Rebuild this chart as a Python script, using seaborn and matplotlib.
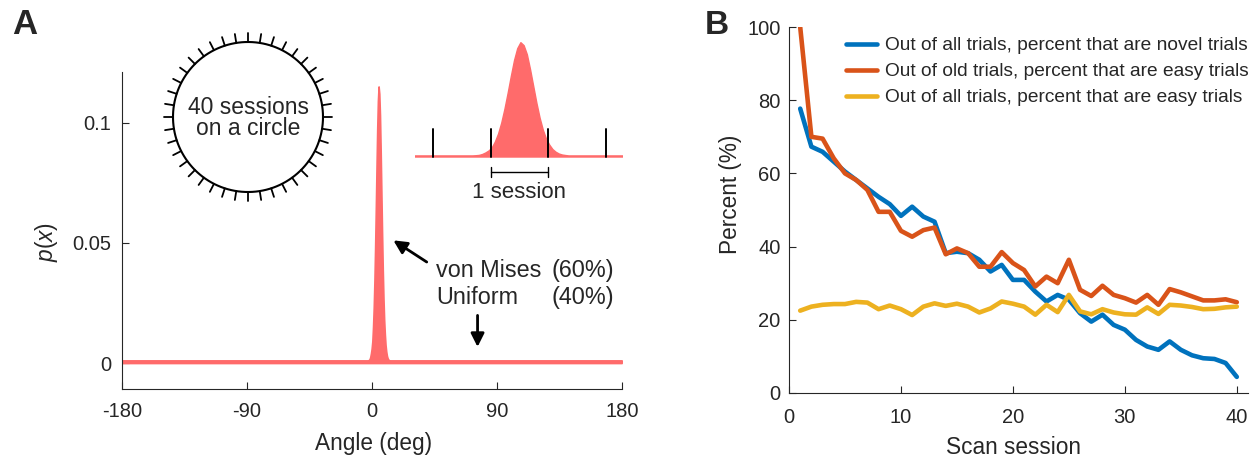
import numpy as np
import pandas as pd
import matplotlib
matplotlib.use("Agg")
import matplotlib.pyplot as plt
import seaborn as sns

# Panel A: angular density (von Mises peak + uniform floor), 0.5 deg bins
bin_width = 0.5
uniform_level = 0.0011
peak_centers = [-2.25, -1.75, -1.25, -0.75, -0.25, 0.25, 0.75, 1.25, 1.75, 2.25,
                2.75, 3.25, 3.75, 4.25, 4.75, 5.25, 5.75, 6.25, 6.75, 7.25,
                7.75, 8.25, 8.75, 9.25, 9.75, 10.25, 10.75, 11.25, 11.75]
peak_density = [0.0013, 0.0016, 0.0025, 0.0040, 0.0060, 0.0090, 0.0150, 0.0230, 0.0340, 0.0480,
                0.0640, 0.0810, 0.0970, 0.1090, 0.1150, 0.1120, 0.1030, 0.0880, 0.0710, 0.0540,
                0.0390, 0.0270, 0.0180, 0.0120, 0.0075, 0.0048, 0.0030, 0.0020, 0.0015]
session_ticks = [-9, 0, 9, 18]

# Panel B
sessions = np.arange(1, 41)
novel_pct = [77.7, 67.3, 65.9, 63.2, 60.5, 58.2, 55.9, 53.6, 51.6, 48.4,
             50.9, 48.2, 46.8, 38.2, 38.6, 38.2, 36.4, 33.2, 35.0, 30.9,
             30.9, 27.7, 25.0, 26.8, 25.5, 21.8, 19.5, 21.4, 18.6, 17.3,
             14.5, 12.7, 11.8, 14.1, 11.8, 10.3, 9.5, 9.3, 8.2, 4.4]
old_easy_pct = [100, 70.0, 69.5, 64.1, 60.0, 58.2, 55.5, 49.5, 49.5, 44.3,
                42.7, 44.5, 45.2, 37.9, 39.5, 38.2, 34.5, 34.5, 38.5, 35.5,
                33.6, 29.1, 31.8, 30.0, 36.4, 28.2, 26.5, 29.3, 26.8, 25.9,
                24.7, 26.8, 24.1, 28.4, 27.5, 26.4, 25.3, 25.3, 25.6, 24.8]
all_easy_pct = [22.5, 23.6, 24.1, 24.3, 24.3, 24.9, 24.7, 22.9, 23.9, 22.9,
                21.3, 23.6, 24.5, 23.8, 24.4, 23.6, 22.0, 23.1, 25.0, 24.4,
                23.6, 21.4, 24.1, 22.1, 26.8, 22.3, 21.5, 22.9, 22.0, 21.5,
                21.4, 23.4, 21.6, 24.1, 23.9, 23.5, 22.9, 23.0, 23.4, 23.6]
series = [
    ("Out of all trials, percent that are novel trials", novel_pct, "#0072BD"),
    ("Out of old trials, percent that are easy trials", old_easy_pct, "#D95319"),
    ("Out of all trials, percent that are easy trials", all_easy_pct, "#EDB120"),
]

sns.set_style("ticks")
plt.rcParams["font.family"] = ["Liberation Sans", "DejaVu Sans"]
plt.rcParams["mathtext.fontset"] = "custom"
plt.rcParams["mathtext.it"] = "Liberation Sans:italic"
plt.rcParams["mathtext.rm"] = "Liberation Sans"
plt.rcParams["xtick.direction"] = "in"
plt.rcParams["ytick.direction"] = "in"
tick_fs = 14.5
lab_fs = 16.3
txt_fs = 16.8
red = "#FF6B6B"

# full histogram grid: uniform floor with the peak bins filled in
centers = np.arange(-180, 180, bin_width) + bin_width / 2
density = np.full(centers.size, uniform_level)
for c, d in zip(peak_centers, peak_density):
    density[np.argmin(np.abs(centers - c))] = d
hist_df = pd.DataFrame({"angle": centers, "p": density})

fig = plt.figure(figsize=(12.6, 4.61), dpi=100)

# ---- Panel A ----
axA = fig.add_axes([122 / 1260, 1 - 389 / 461, 500 / 1260, 317 / 461])
sns.histplot(data=hist_df, x="angle", weights="p", binwidth=bin_width, binrange=(-180, 180),
             element="poly", fill=True, color=red, alpha=1, linewidth=1.2, ax=axA)
axA.set_xlim(-180, 180)
axA.set_ylim(-0.0108, 0.121)
axA.set_xticks([-180, -90, 0, 90, 180])
axA.set_xticklabels(["-180", "-90", "0", "90", "180"])
axA.set_yticks([0, 0.05, 0.1])
axA.set_yticklabels(["0", "0.05", "0.1"])
axA.tick_params(labelsize=tick_fs, length=5, width=0.8)
axA.tick_params(axis="y", pad=8)
axA.tick_params(axis="x", pad=9)
axA.set_xlabel("Angle (deg)", fontsize=lab_fs)
axA.set_ylabel("$p$($x$)", fontsize=lab_fs)
axA.xaxis.set_label_coords((373.7 - 122) / 500, (389 - 443) / 317)
axA.yaxis.set_label_coords((46.7 - 122) / 500, (389 - 242) / 317)
axA.xaxis.label.set_va("center")
axA.yaxis.label.set_va("center")
sns.despine(ax=axA)
for s in ["left", "bottom"]:
    axA.spines[s].set_linewidth(0.8)

arrow = dict(arrowstyle="-|>", color="black", lw=2, mutation_scale=20, shrinkA=0, shrinkB=0)
axA.annotate("", xy=(15.4, 0.0510), xytext=(39.4, 0.0420), arrowprops=arrow)
axA.annotate("", xy=(76.0, 0.0067), xytext=(76.0, 0.0198), arrowprops=arrow)
axA.text(46.1, 0.0384, "von Mises", fontsize=txt_fs, va="center", ha="left")
axA.text(129.4, 0.0384, "(60%)", fontsize=txt_fs, va="center", ha="left")
axA.text(46.1, 0.0273, "Uniform", fontsize=txt_fs, va="center", ha="left")
axA.text(129.4, 0.0273, "(40%)", fontsize=txt_fs, va="center", ha="left")

# inset: zoom on the peak
axI = fig.add_axes([415 / 1260, 1 - 160 / 461, 208 / 1260, 120 / 461])
sns.histplot(data=hist_df, x="angle", weights="p", binwidth=bin_width, binrange=(-180, 180),
             element="poly", fill=True, color=red, alpha=1, linewidth=1.0, ax=axI)
axI.set_xlim(-11.8, 20.7)
axI.set_ylim(-0.003, 0.1177)
axI.axis("off")
for t in session_ticks:
    axI.plot([t, t], [0, 0.0283], color="black", lw=1.4)
axI.plot([0, 9], [-0.0147, -0.0147], color="black", lw=1, clip_on=False)
for t in [0, 9]:
    axI.plot([t, t], [-0.0197, -0.0097], color="black", lw=1, clip_on=False)
axI.text(4.5, -0.036, "1 session", fontsize=16, ha="center", va="center")

# circle schematic
axC = fig.add_axes([(248 - 90) / 1260, 1 - (117 + 90) / 461, 180 / 1260, 180 / 461])
axC.set_xlim(-90, 90)
axC.set_ylim(-90, 90)
axC.set_aspect("equal")
axC.axis("off")
theta = np.linspace(0, 2 * np.pi, 400)
axC.plot(75 * np.cos(theta), 75 * np.sin(theta), color="black", lw=1.5)
for k in range(40):
    a = np.pi / 2 + k * 2 * np.pi / 40
    axC.plot([75 * np.cos(a), 84 * np.cos(a)], [75 * np.sin(a), 84 * np.sin(a)],
             color="black", lw=1.3)
axC.text(0, -1, "40 sessions\non a circle", fontsize=16.5, ha="center", va="center",
         linespacing=0.9)

# ---- Panel B ----
axB = fig.add_axes([789 / 1260, 1 - 393 / 461, 459 / 1260, 366 / 461])
for label, vals, col in series:
    sns.lineplot(x=sessions, y=vals, color=col, lw=3.3, label=label, ax=axB)
axB.set_xlim(0, 41)
axB.set_ylim(0, 100)
axB.set_xticks([0, 10, 20, 30, 40])
axB.set_yticks([0, 20, 40, 60, 80, 100])
axB.tick_params(labelsize=tick_fs, length=5, width=0.8)
axB.tick_params(axis="y", pad=6)
axB.tick_params(axis="x", pad=11)
axB.set_xlabel("Scan session", fontsize=lab_fs)
axB.set_ylabel("Percent (%)", fontsize=lab_fs)
axB.xaxis.set_label_coords((1013 - 789) / 459, (393 - 448) / 366)
axB.yaxis.set_label_coords((730 - 789) / 459, (393 - 194.5) / 366)
axB.xaxis.label.set_va("center")
axB.yaxis.label.set_va("center")
sns.despine(ax=axB)
for s in ["left", "bottom"]:
    axB.spines[s].set_linewidth(0.8)
axB.legend(loc="upper left", bbox_to_anchor=(846 / 1260, 1 - 37 / 461),
           bbox_transform=fig.transFigure, frameon=False, borderpad=0, borderaxespad=0,
           fontsize=13.8, handlelength=1.63, handletextpad=0.42, labelspacing=0.45)

fig.text(12 / 1260, 1 - 24 / 461, "A", fontsize=25, fontweight="bold", va="center")
fig.text(705 / 1260, 1 - 26 / 461, "B", fontsize=24, fontweight="bold", va="center")

fig.savefig("out.png", dpi=100)
